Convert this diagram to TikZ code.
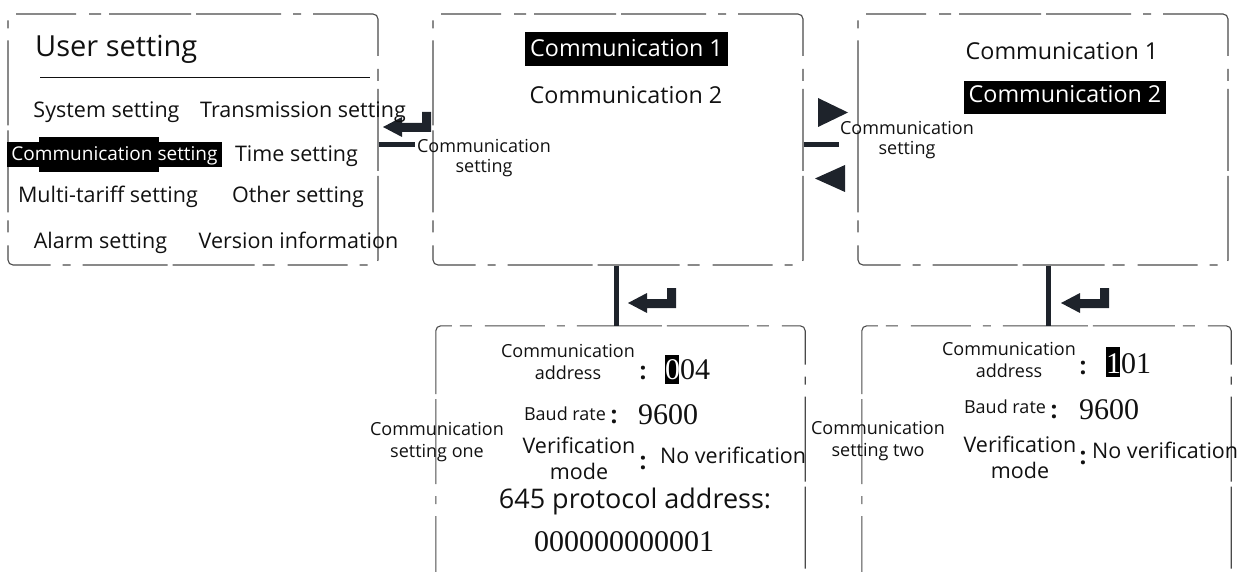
\documentclass[tikz,border=0pt]{standalone}
\usepackage{fontspec}
\setmainfont{Open Sans}
\newfontfamily\numfont{Liberation Serif}
\definecolor{ink}{HTML}{111111}
\definecolor{inkdark}{HTML}{1E232B}
\definecolor{linegray}{HTML}{4A4A4A}
\begin{document}
\begin{tikzpicture}[x=1pt,y=-1pt,
  boxline/.style={draw=linegray, line width=1.1pt, rounded corners=5pt,
    dash pattern=on 60pt off 12pt on 8pt off 12pt on 85pt off 5pt on 82pt off 8pt on 12pt off 13pt},
  panelbox/.style={rectangle, inner sep=0pt, minimum width=370pt, minimum height=251pt},
  lbl/.style={anchor=base, inner sep=0pt, text=ink},
  txtmenu/.style={lbl, font=\fontsize{21.5}{25}\selectfont},
  txtsmall/.style={lbl, font=\fontsize{18}{21}\selectfont},
  txtitem/.style={lbl, font=\fontsize{23.3}{27}\selectfont},
  txtfield/.style={lbl, font=\fontsize{18}{22}\selectfont},
  txtbig/.style={lbl, font=\fontsize{21.5}{25}\selectfont},
  txtnum/.style={lbl, font=\numfont\fontsize{30}{34}\selectfont},
  txtcolon/.style={lbl, font=\fontsize{24}{28}\selectfont\bfseries},
  linkline/.style={draw=inkdark, line width=5pt},
  enterkey/.pic={\fill[inkdark] (0,0) -- (19,-10) -- (19,-4) -- (39,-4) -- (39,-15) -- (48,-15) -- (48,5) -- (19,5) -- (19,10) -- cycle;}
]
\useasboundingbox (0,0) rectangle (1253,572);

% panels
\node[panelbox, boxline] (b1) at (193,139.5) {};
\node[panelbox, boxline] (b2) at (618,139.5) {};
\node[panelbox, boxline] (b3) at (1043,139.5) {};
\node[panelbox, minimum width=369pt, minimum height=250pt] (b4) at (620.5,451) {};
\node[panelbox, minimum width=369pt, minimum height=250pt] (b5) at (1046.5,451) {};
\draw[boxline] (b4.south west) -- (b4.north west) -- (b4.north east) -- (b4.south east);
\draw[boxline] (b5.south west) -- (b5.north west) -- (b5.north east) -- (b5.south east);

% connectors
\coordinate (s1) at (415,145);
\coordinate (s2) at (839,145);
\coordinate (v1) at (616,300);
\coordinate (v2) at (1048,300);
\draw[linkline] (b1.east |- s1) -- (s1);
\draw[linkline] (b2.east |- s2) -- (s2);
\draw[linkline] (v1 |- b2.south) -- (v1 |- b4.north);
\draw[linkline] (v2 |- b3.south) -- (v2 |- b5.north);

% enter keys and triangles
\pic at (383,127) {enterkey};
\pic at (628,303) {enterkey};
\pic at (1061,303) {enterkey};
\fill[inkdark] (818,98) -- (848,112.5) -- (818,127) -- cycle;
\fill[inkdark] (845,165) -- (815,178.5) -- (845,192) -- cycle;

% connector labels
\node[txtsmall] (l1a) at (484,153) {Communication};
\node[txtsmall] (l1b) at (484,173) {setting};
\node[txtsmall] (l2a) at (907,135) {Communication};
\node[txtsmall] (l2b) at (907,155) {setting};
\node[txtsmall] (l3a) at (437,435) {Communication};
\node[txtsmall] (l3b) at (437,457) {setting one};
\node[txtsmall] (l4a) at (878,434) {Communication};
\node[txtsmall] (l4b) at (878,456) {setting two};

% panel 1
\node[lbl, anchor=base west, font=\fontsize{29}{33}\selectfont] (title) at (35,57) {User setting};
\draw[ink, line width=0.8pt] (40,77) -- (370,77);
\fill[black] (39,137) rectangle (159,172);
\fill[black] (7,142) rectangle (222,167);
\node[txtmenu, text=white, font=\fontsize{19}{23}\selectfont] (m3) at (114.5,161) {Communication setting};
\node[txtmenu] (m1) at (106.5,118) {System setting};
\node[txtmenu] (m2) at (303,118) {Transmission setting};
\node[txtmenu] (m4) at (296.5,162) {Time setting};
\node[txtmenu] (m5) at (108,203) {Multi-tariff setting};
\node[txtmenu] (m6) at (298,203) {Other setting};
\node[txtmenu] (m7) at (100.5,248) {Alarm setting};
\node[txtmenu] (m8) at (298.5,248) {Version information};

% panel 2
\fill[black] (525,32) rectangle (728,66);
\node[txtitem, text=white] (p2a) at (626.5,57) {Communication 1};
\node[txtitem] (p2b) at (626,104) {Communication 2};

% panel 3
\node[txtitem] (p3a) at (1062,60) {Communication 1};
\fill[black] (964,81) rectangle (1166,114);
\node[txtitem, text=white] (p3b) at (1065,103) {Communication 2};

% panel 4
\node[txtfield] (f1a) at (568,357) {Communication};
\node[txtfield] (f1b) at (568,379) {address};
\node[txtcolon] (c1) at (643,379) {:};
\fill[black] (665,355) rectangle (679,384);
\node[txtnum, anchor=base west] (n1) at (665,379) {\textcolor{white}{0}04};
\node[txtfield] (f2) at (565,420) {Baud rate};
\node[txtcolon] (c2) at (614,423) {:};
\node[txtnum, anchor=base west] (n2) at (638,424) {9600};
\node[txtbig] (f3a) at (579,453) {Verification};
\node[txtbig] (f3b) at (579,479) {mode};
\node[txtcolon] (c3) at (643,469) {:};
\node[txtbig, anchor=base west] (n3) at (660,463) {No verification};
\node[lbl, font=\fontsize{27}{31}\selectfont] (f4) at (635,508) {645 protocol address:};
\node[txtnum] (n4) at (624,551) {000000000001};

% panel 5
\node[txtfield] (g1a) at (1009,355) {Communication};
\node[txtfield] (g1b) at (1009,377) {address};
\node[txtcolon] (d1) at (1083,374) {:};
\fill[black] (1106,347) rectangle (1120,377);
\node[txtnum, anchor=base west] (k1) at (1106,373) {\textcolor{white}{1}01};
\node[txtfield] (g2) at (1005,413) {Baud rate};
\node[txtcolon] (d2) at (1054,418) {:};
\node[txtnum, anchor=base west] (k2) at (1079,419) {9600};
\node[txtbig] (g3a) at (1020,452) {Verification};
\node[txtbig] (g3b) at (1020,478) {mode};
\node[txtcolon] (d3) at (1083,464) {:};
\node[txtbig, anchor=base west] (k3) at (1092,458) {No verification};
\end{tikzpicture}
\end{document}
